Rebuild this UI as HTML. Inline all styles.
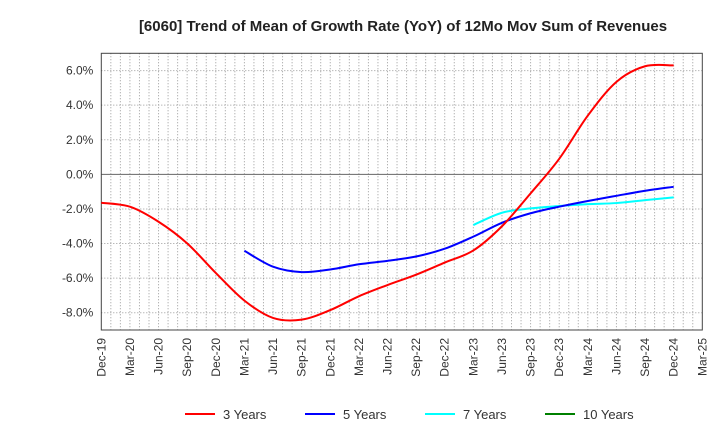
<!DOCTYPE html>
<html><head><meta charset="utf-8"><style>
body{margin:0;background:#fff;font-family:"Liberation Sans",Arial,sans-serif}
svg{display:block}
</style></head><body>
<svg id="chart" width="720" height="440" xmlns="http://www.w3.org/2000/svg">
<text x="403" y="31" text-anchor="middle" font-size="15" font-weight="bold" fill="#222">[6060]  Trend of Mean of Growth Rate (YoY) of 12Mo Mov Sum of Revenues</text>
<g id="grid"></g><g id="axes"></g><g id="series"></g><g id="legend"></g>
</svg>
<script>
const categories=["Dec-19","Mar-20","Jun-20","Sep-20","Dec-20","Mar-21","Jun-21","Sep-21","Dec-21","Mar-22","Jun-22","Sep-22","Dec-22","Mar-23","Jun-23","Sep-23","Dec-23","Mar-24","Jun-24","Sep-24","Dec-24","Mar-25"];
const yTicks=[6,4,2,0,-2,-4,-6,-8];
const s3=[-1.64,-1.87,-2.74,-3.99,-5.7,-7.3,-8.3,-8.4,-7.85,-7.05,-6.4,-5.8,-5.1,-4.4,-3.0,-1.1,0.9,3.4,5.35,6.25,6.3];
const s5=[null,null,null,null,null,-4.42,-5.34,-5.65,-5.5,-5.2,-5.0,-4.75,-4.3,-3.6,-2.8,-2.25,-1.87,-1.54,-1.24,-0.95,-0.72];
const s7=[null,null,null,null,null,null,null,null,null,null,null,null,null,-2.93,-2.22,-1.97,-1.83,-1.72,-1.66,-1.49,-1.33];
const s10=[];
const L=101.3,R=702.3,T=53.3,B=330,YMIN=-9,YMAX=7;
const NS="http://www.w3.org/2000/svg";
const x=i=>L+i*(R-L)/(categories.length-1);
const y=v=>B-(v-YMIN)/(YMAX-YMIN)*(B-T);
function mk(tag,attrs,parent){const e=document.createElementNS(NS,tag);for(const k in attrs)e.setAttribute(k,attrs[k]);parent.appendChild(e);return e;}
const grid=document.getElementById('grid'),axes=document.getElementById('axes'),ser=document.getElementById('series'),leg=document.getElementById('legend');
for(let m=1;m<(categories.length-1)*3;m++){const xx=L+m*(R-L)/((categories.length-1)*3);
 const g=mk('line',{x1:xx,x2:xx,y1:T,y2:B,stroke:'#999','stroke-width':1,'stroke-dasharray':'1,2'},grid);
 
 }
yTicks.forEach(v=>{const l=mk('line',{x1:L,x2:R,y1:y(v),y2:y(v),stroke:v===0?'#666':'#999','stroke-width':1,'stroke-dasharray':v===0?'none':'1,2'},grid);
 
 
 const t=mk('text',{x:L-8,y:y(v)+4,'text-anchor':'end','font-size':12,fill:'#333'},axes);
 t.textContent=v.toFixed(1)+'%';
 
 });
categories.forEach((c,i)=>{const t=mk('text',{transform:`translate(${x(i)+4},338) rotate(-90)`,'text-anchor':'end','font-size':12,fill:'#333'},axes);
 t.textContent=c;
 
 });
const frame=mk('rect',{x:L,y:T,width:R-L,height:B-T,fill:'none',stroke:'#444','stroke-width':1},axes);


function path(data,color,name){const pts=[];data.forEach((v,i)=>{if(v!=null)pts.push([x(i),y(v)]);});
 if(pts.length<2)return;let d=`M${pts[0][0]},${pts[0][1]}`;
 for(let i=0;i<pts.length-1;i++){const p0=pts[i-1]||pts[i],p1=pts[i],p2=pts[i+1],p3=pts[i+2]||p2;
  d+=`C${p1[0]+(p2[0]-p0[0])/6},${p1[1]+(p2[1]-p0[1])/6} ${p2[0]-(p3[0]-p1[0])/6},${p2[1]-(p3[1]-p1[1])/6} ${p2[0]},${p2[1]}`;}
 const p=mk('path',{d:d,fill:'none',stroke:color,'stroke-width':2},ser);
 
 }
path(s7,'#00ffff','series-7-years');
path(s5,'#0000ff','series-5-years');
path(s3,'#ff0000','series-3-years');
path(s10,'#008000','series-10-years');
[['3 Years','#ff0000',185],['5 Years','#0000ff',305],['7 Years','#00ffff',425],['10 Years','#008000',545]].forEach(([n,c,lx])=>{
 const g=mk('g',{},leg);
 
 
 mk('line',{x1:lx,x2:lx+30,y1:414,y2:414,stroke:c,'stroke-width':2},g);
 const t=mk('text',{x:lx+38,y:419,'font-size':13,fill:'#333'},g);t.textContent=n;});
</script>
</body></html>
